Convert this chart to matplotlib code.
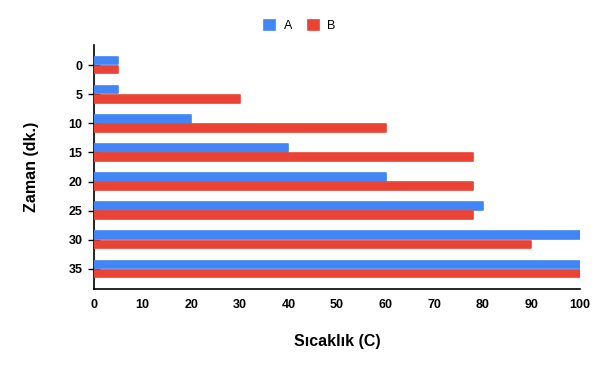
import matplotlib
matplotlib.use("Agg")
import matplotlib.pyplot as plt
import numpy as np

categories = ["0", "5", "10", "15", "20", "25", "30", "35"]
series_a = [5, 5, 20, 40, 60, 80, 100, 100]
series_b = [5, 30, 60, 78, 78, 78, 90, 100]
x_ticks = [0, 10, 20, 30, 40, 50, 60, 70, 80, 90, 100]

plt.rcParams['font.family'] = ['Liberation Sans', 'DejaVu Sans']

fig = plt.figure(figsize=(6, 3.71), dpi=100)
ax = fig.add_axes([94/600, 1-289/371, (580-94)/600, (289-45)/371])

y = np.arange(len(categories))
h = 0.26
off = 0.155
ax.barh(y - off, series_a, height=h, color='#4285F4', edgecolor='#4285F4',
        linewidth=1.2, joinstyle='round', label='A', zorder=3)
ax.barh(y + off, series_b, height=h, color='#EA4335', edgecolor='#EA4335',
        linewidth=1.2, joinstyle='round', label='B', zorder=3)

ax.set_xlim(0, 100)
ax.set_ylim(len(categories) - 1 + 0.69, -0.69)
ax.set_yticks(y)
ax.set_yticklabels(categories)
ax.set_xticks(x_ticks)
for sp in ['top', 'right']:
    ax.spines[sp].set_visible(False)
for sp in ['left', 'bottom']:
    ax.spines[sp].set_linewidth(1.2)
    ax.spines[sp].set_color('black')
ax.tick_params(axis='y', direction='inout', length=8.6, width=1.0, pad=4, labelsize=9)
ax.tick_params(axis='x', length=0, pad=7, labelsize=9)
for lab in ax.get_xticklabels() + ax.get_yticklabels():
    lab.set_fontweight('bold')

ax.set_xlabel('Sıcaklık (C)', fontsize=11.5, fontweight='bold', labelpad=17)
ax.set_ylabel('Zaman (dk.)', fontsize=11.5, fontweight='bold', labelpad=21)

fig.legend(loc='center', bbox_to_anchor=(0.5, 1-26/371), ncol=2, frameon=False,
           handlelength=0.88, handleheight=0.88, handletextpad=0.72, columnspacing=1.2,
           fontsize=9)

fig.savefig('out.png', dpi=100)
